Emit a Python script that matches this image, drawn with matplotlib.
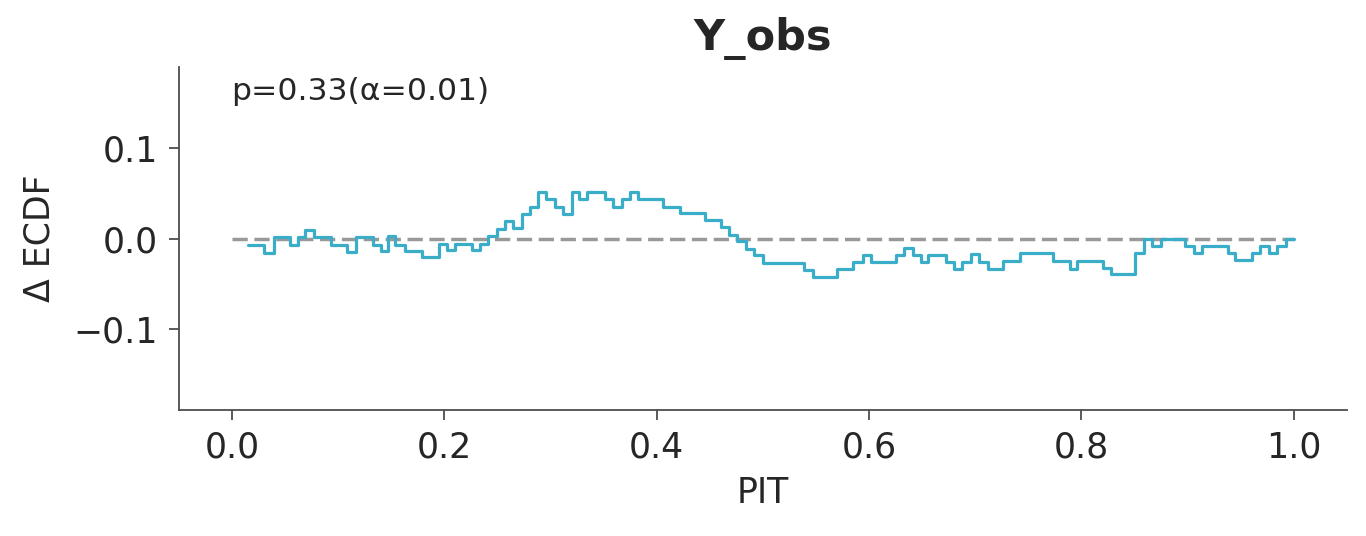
import numpy as np
import matplotlib
matplotlib.use("Agg")
import matplotlib.pyplot as plt

# PIT grid positions where the ECDF difference changes
pit_x = [0.0151, 0.0301, 0.0391, 0.0546, 0.0621, 0.0687, 0.0772, 0.0932, 0.1083, 0.1168,
         0.1328, 0.1403, 0.1472, 0.1535, 0.1629, 0.1786, 0.1952, 0.2022, 0.2100, 0.2257,
         0.2335, 0.2413, 0.2492, 0.2571, 0.2649, 0.2728, 0.2806, 0.2884, 0.2957, 0.3041,
         0.3120, 0.3199, 0.3270, 0.3346, 0.3512, 0.3585, 0.3669, 0.3748, 0.3826, 0.4061,
         0.4218, 0.4454, 0.4602, 0.4683, 0.4758, 0.4837, 0.4915, 0.4997, 0.5386, 0.5468,
         0.5694, 0.5850, 0.5939, 0.6014, 0.6252, 0.6328, 0.6410, 0.6488, 0.6557, 0.6723,
         0.6801, 0.6871, 0.6956, 0.7037, 0.7116, 0.7260, 0.7420, 0.7734, 0.7891, 0.7960,
         0.8204, 0.8274, 0.8503, 0.8588, 0.8669, 0.8745, 0.8974, 0.9058, 0.9137, 0.9376,
         0.9451, 0.9611, 0.9686, 0.9767, 0.9843, 0.9925, 1.0]
ecdf_diff = [-0.0074, -0.0157, 0.0014, -0.0066, 0.0014, 0.0091, 0.0014, -0.0066, -0.0151, 0.0014,
             -0.0066, -0.0140, 0.0025, -0.0066, -0.0140, -0.0205, -0.0055, -0.0121, -0.0055, -0.0121,
             -0.0055, 0.0025, 0.0107, 0.0190, 0.0118, 0.0271, 0.0344, 0.0513, 0.0432, 0.0352,
             0.0271, 0.0513, 0.0432, 0.0513, 0.0432, 0.0352, 0.0432, 0.0513, 0.0432, 0.0352,
             0.0278, 0.0201, 0.0124, 0.0044, -0.0030, -0.0110, -0.0187, -0.0267, -0.0344, -0.0421,
             -0.0341, -0.0260, -0.0179, -0.0260, -0.0179, -0.0102, -0.0179, -0.0260, -0.0179, -0.0260,
             -0.0341, -0.0260, -0.0173, -0.0260, -0.0333, -0.0249, -0.0165, -0.0249, -0.0333, -0.0249,
             -0.0322, -0.0396, -0.0157, 0.0, -0.0077, 0.0, -0.0077, -0.0157, -0.0077, -0.0157,
             -0.0238, -0.0157, -0.0077, -0.0157, -0.0077, 0.0, 0.0]

p_value = 0.33
alpha = 0.01
title = "Y_obs"

text_color = "#262626"
plt.rcParams["font.family"] = "DejaVu Sans"

fig = plt.figure(figsize=(13.66, 5.36), dpi=100)
ax = fig.add_axes([0.131, 0.235, 0.855, 0.640])

ax.hlines(0, 0, 1, color="#999999", lw=2.5, linestyles=(0, (4.4, 1.9)), zorder=1)
ax.step(pit_x, ecdf_diff, where="post", color="#3aadc9", lw=2.3, zorder=2,
        solid_joinstyle="round", solid_capstyle="round")

ax.set_xlim(-0.05, 1.05)
ax.set_ylim(-0.189, 0.189)
ax.set_xticks([0.0, 0.2, 0.4, 0.6, 0.8, 1.0])
ax.set_yticks([-0.1, 0.0, 0.1])
ax.set_xticklabels(["0.0", "0.2", "0.4", "0.6", "0.8", "1.0"])
ax.set_yticklabels(["\u22120.1", "0.0", "0.1"])

for s in ["top", "right"]:
    ax.spines[s].set_visible(False)
for s in ["left", "bottom"]:
    ax.spines[s].set_color("#4d4d4d")
    ax.spines[s].set_linewidth(1.3)

ax.tick_params(labelsize=25, colors=text_color, length=7, width=1.3, color="#4d4d4d", pad=8)
ax.set_xlabel("PIT", fontsize=25, color=text_color, labelpad=8)
ax.set_ylabel("\u0394 ECDF", fontsize=25, color=text_color, labelpad=12)
ax.set_title(title, fontsize=31, fontweight="bold", color=text_color, pad=12)

ax.text(0.045, 0.928, "p={:.2f}(\u03b1={:.2f})".format(p_value, alpha), transform=ax.transAxes,
        fontsize=22.6, color=text_color, ha="left", va="center")

fig.savefig("out.png", dpi=100)
